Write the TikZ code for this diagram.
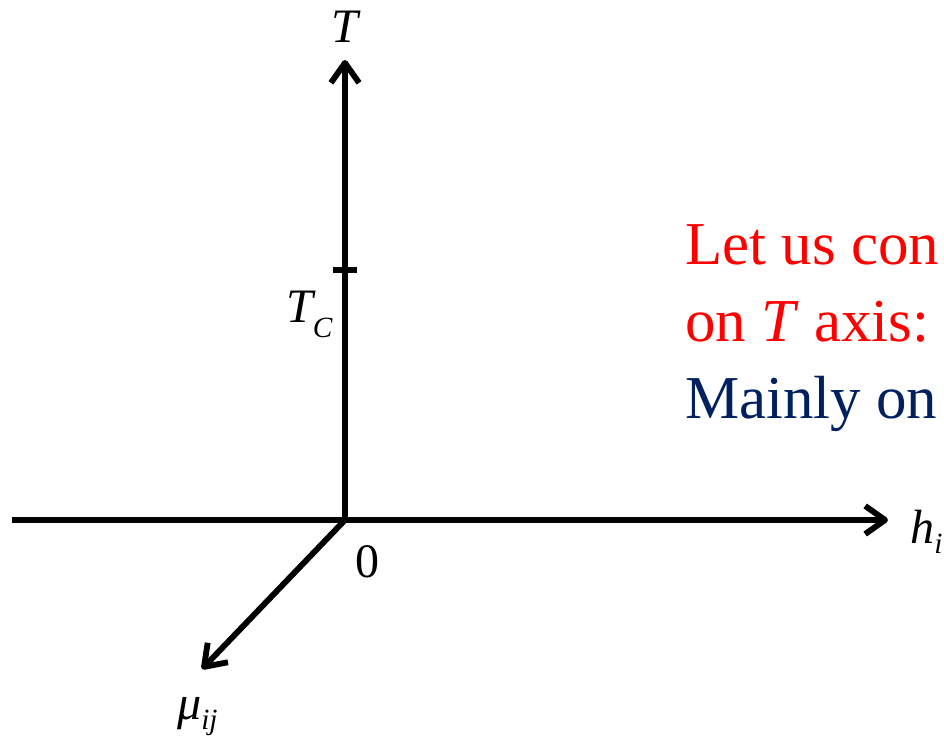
\documentclass[tikz,border=0pt]{standalone}
\usepackage{fontspec}
\setmainfont{Liberation Serif}
\usepackage{xcolor}
\usepackage{tikz}
\usetikzlibrary{arrows.meta, positioning}
\definecolor{darkblue}{RGB}{0,32,96}

\begin{document}
\begin{tikzpicture}[x=0.03cm, y=-0.03cm, >={Straight Barb[length=17pt, width=24pt, line join=round]},
    axis/.style={line width=5pt},
    tick/.style={line width=5.5pt},
    lbl/.style={inner sep=0pt, font=\fontsize{41}{41}\selectfont\itshape},
    num/.style={inner sep=0pt, font=\fontsize{41}{41}\selectfont},
    note/.style={inner sep=0pt, anchor=base west, font=\fontsize{52}{52}\selectfont}]

\clip (0,0) rectangle (944,737);

\coordinate (o) at (345,520);
\coordinate (hstart) at (12,520);
\coordinate (hend) at (888,520);
\coordinate (tend) at (345,60);
\coordinate (muend) at (202,669);
\coordinate (tc) at (345,270);

\node[lbl, anchor=base] (tlab) at (345,43) {T};
\node[lbl, anchor=base west] (hlab) at (910,543) {h\raisebox{-9pt}{\fontsize{25}{25}\selectfont i}};
\node[lbl, anchor=base west] (mulab) at (177,719) {μ\raisebox{-9pt}{\fontsize{25}{25}\selectfont ij}};
\node[lbl, anchor=base west] (tclab) at (286,322) {T\raisebox{-13pt}{\fontsize{25}{25}\selectfont C}};
\node[num, anchor=base west] (zero) at (355,577) {0};

\node[note, text=red] (line1) at (685,265) {Let us con};
\node[note, text=red] (line2) at (685,342) {on \textit{T} axis:};
\node[note, text=darkblue] (line3) at (685,418) {Mainly on};

\draw[axis, ->] (hstart) -- (hend);
\draw[axis, ->] (o) -- (tend);
\draw[axis, ->] (o) -- (muend);
\draw[tick] ([xshift=-12*0.03cm]tc) -- ([xshift=12*0.03cm]tc);
\end{tikzpicture}
\end{document}
